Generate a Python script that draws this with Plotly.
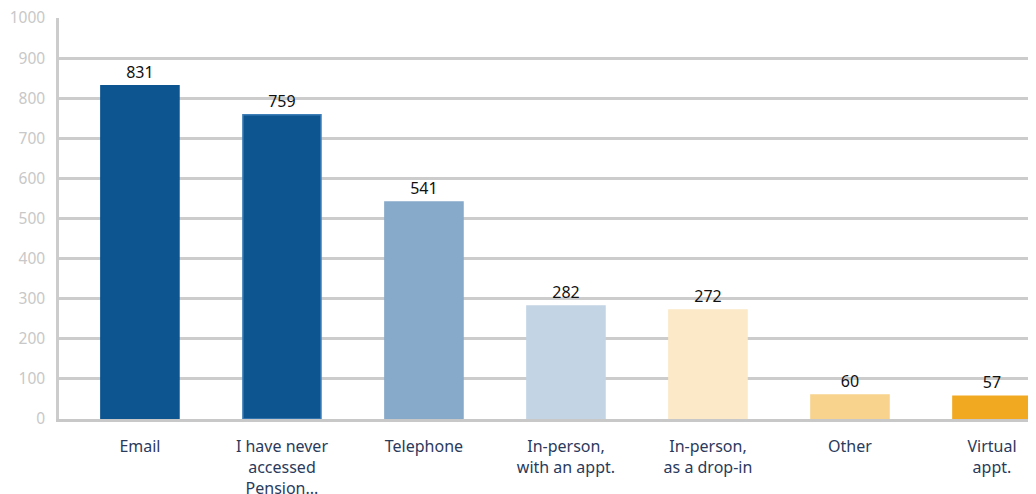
import plotly.graph_objects as go

categories = [
    "Email",
    "I have never<br>accessed<br>Pension...",
    "Telephone",
    "In-person,<br>with an appt.",
    "In-person,<br>as a drop-in",
    "Other",
    "Virtual<br>appt.",
]
counts = [831, 759, 541, 282, 272, 60, 57]
bar_colors = ["#0d5591", "#0d5591", "#87a9ca", "#c3d5e5", "#fce9c7", "#f8d38e", "#f2a922"]
line_colors = ["#0d5591", "#3f7fb8", "#87a9ca", "#c3d5e5", "#fce9c7", "#f8d38e", "#f2a922"]
y_ticks = list(range(0, 1001, 100))

fig = go.Figure()
fig.add_trace(
    go.Bar(
        x=list(range(len(categories))),
        y=counts,
        width=0.55,
        marker=dict(color=bar_colors, line=dict(color=line_colors, width=1.5)),
        text=[str(v) for v in counts],
        textposition="outside",
        textfont=dict(family="Noto Sans", size=16, color="#111111"),
        cliponaxis=False,
        hoverinfo="skip",
    )
)

# page body adds an 8px offset, margins account for it
fig.update_layout(
    width=1036,
    height=494,
    margin=dict(l=51, r=8, t=10, b=83),
    plot_bgcolor="white",
    paper_bgcolor="white",
    showlegend=False,
    font=dict(family="Noto Sans"),
    xaxis=dict(
        tickmode="array",
        tickvals=list(range(len(categories))),
        ticktext=categories,
        range=[-0.57, 6.31],
        automargin=False,
        showgrid=False,
        zeroline=False,
        showline=True,
        linecolor="#c8c8c8",
        linewidth=2.5,
        ticks="outside",
        ticklen=11,
        tickcolor="rgba(0,0,0,0)",
        tickfont=dict(family="Noto Sans", size=16, color="#2a3a5c"),
    ),
    yaxis=dict(
        range=[0, 1000],
        tickvals=y_ticks,
        automargin=False,
        ticklabeloverflow="allow",
        showgrid=True,
        gridcolor="#cccccc",
        gridwidth=2.5,
        zeroline=False,
        showline=True,
        linecolor="#cccccc",
        linewidth=2.5,
        ticklabelstandoff=8,
        tickfont=dict(family="Noto Sans", size=15.5, color="#c8c8c8"),
    ),
)

fig.write_html("out.html")
